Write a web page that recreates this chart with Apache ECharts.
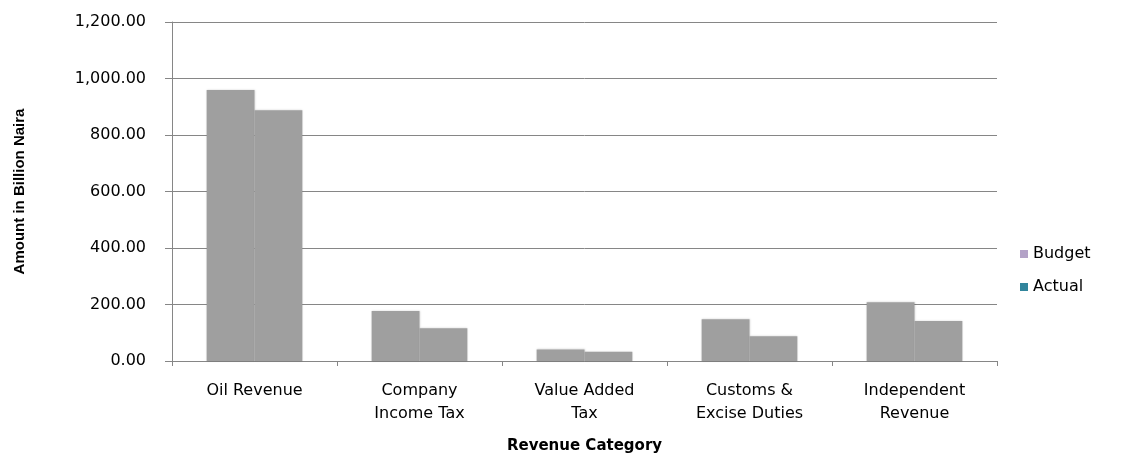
<!DOCTYPE html>
<html>
<head>
<meta charset="utf-8">
<script src="https://cdn.jsdelivr.net/npm/echarts@6/dist/echarts.min.js"></script>
<style>
  html, body { margin: 0; padding: 0; background: #fff; }
  #main { width: 1139px; height: 457px; }
</style>
</head>
<body>
<div id="main"></div>
<script>
var categories = ['Oil Revenue', 'Company\nIncome Tax', 'Value Added\nTax', 'Customs &\nExcise Duties', 'Independent\nRevenue'];
var budget = [959, 177, 41, 148, 208];
var actual = [888, 116, 33, 88, 142];
var seriesNames = ['Budget', 'Actual'];
var legendColors = ['#b3a2c7', '#31859c'];

var chart = echarts.init(document.getElementById('main'));
// bars are plain grey in the source, only the legend keys carry colour
var barStyle = {
    color: '#9f9f9f',
    shadowColor: 'rgba(0,0,0,0.18)',
    shadowBlur: 2
};
var option = {
    animation: false,
    grid: { left: 172, right: 142, top: 22, bottom: 96, outerBoundsMode: 'none', containLabel: false },
    legend: {
        orient: 'vertical',
        left: 1015,
        top: 241,
        itemGap: 17,
        itemWidth: 8,
        itemHeight: 8,
        icon: 'rect',
        textStyle: { fontFamily: 'DejaVu Sans', fontSize: 16, color: '#000' },
        data: [
            { name: seriesNames[0], itemStyle: { color: legendColors[0] } },
            { name: seriesNames[1], itemStyle: { color: legendColors[1] } }
        ]
    },
    xAxis: {
        type: 'category',
        data: categories,
        name: 'Revenue Category',
        nameLocation: 'middle',
        nameGap: 78,
        nameTextStyle: { fontFamily: 'DejaVu Sans', fontSize: 15, fontWeight: 'bold', color: '#000' },
        axisLine: { lineStyle: { color: '#868686', width: 1 } },
        axisTick: { show: true, length: 5, lineStyle: { color: '#868686' } },
        axisLabel: { fontFamily: 'DejaVu Sans', fontSize: 16, color: '#000', margin: 18, lineHeight: 23 }
    },
    yAxis: {
        type: 'value',
        min: 0,
        max: 1200,
        interval: 200,
        name: 'Amount in Billion Naira',
        nameLocation: 'middle',
        nameGap: 145,
        nameTextStyle: { fontFamily: 'Liberation Sans', fontSize: 15, fontWeight: 'bold', color: '#000' },
        axisLine: { show: true, lineStyle: { color: '#868686', width: 1 } },
        axisTick: { show: true, length: 7, lineStyle: { color: '#868686' } },
        splitLine: { lineStyle: { color: '#868686', width: 1 } },
        axisLabel: {
            fontFamily: 'DejaVu Sans', fontSize: 16, color: '#000', margin: 26,
            formatter: function (v) {
                return v.toLocaleString('en-US', { minimumFractionDigits: 2, maximumFractionDigits: 2 });
            }
        }
    },
    series: [
        { name: seriesNames[0], type: 'bar', data: budget, barGap: '0%', barCategoryGap: '42%', itemStyle: barStyle },
        { name: seriesNames[1], type: 'bar', data: actual, barGap: '0%', barCategoryGap: '42%', itemStyle: barStyle }
    ]
};
chart.setOption(option);
</script>
</body>
</html>
